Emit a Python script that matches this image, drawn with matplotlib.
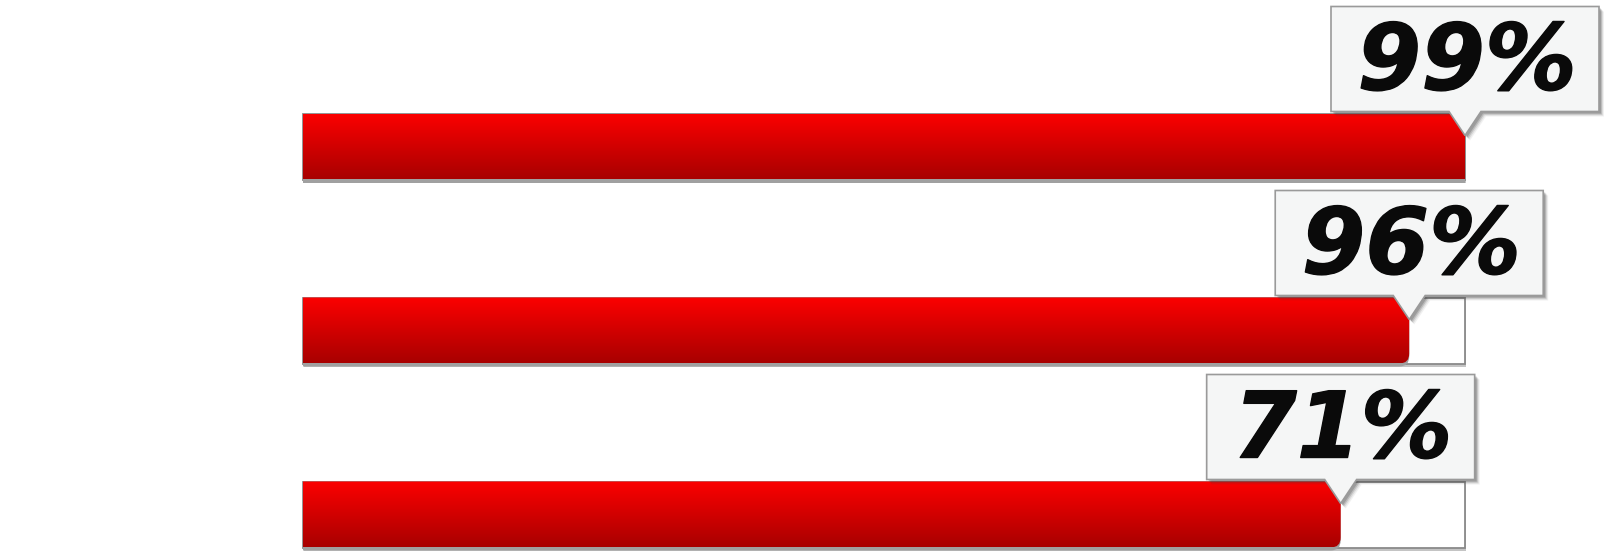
import numpy as np
import matplotlib
matplotlib.use('Agg')
import matplotlib.pyplot as plt
import matplotlib.patheffects as pe
from matplotlib.colors import LinearSegmentedColormap
from matplotlib.patches import PathPatch, Rectangle, Polygon
from matplotlib.path import Path

# values shown in the callouts
labels = ['99%', '96%', '71%']
values = [99, 96, 71]
# bar length as drawn, in percent of the track
bar_fill = [100, 95.2, 89.3]

W, H = 1605, 551
fig = plt.figure(figsize=(W / 100, H / 100), dpi=100)
ax = fig.add_axes([0, 0, 1, 1])
ax.axis('off')

# pixel -> data factors
track_px = 1162
PX = 100 / track_px
PY = 1 / 184.0
x_left_px = 303
y0_px = 146.5

red = LinearSegmentedColormap.from_list('red', ['#fc0000', '#a80000'])
grad = np.linspace(0, 1, 256).reshape(-1, 1)

bar_h = 66 * PY


def bar_path(x0, x1, yt, yb, r):
    rx, ry = r * PX, r * PY
    if r <= 0:
        verts = [(x0, yt), (x1, yt), (x1, yb), (x0, yb), (x0, yt)]
        codes = [Path.MOVETO] + [Path.LINETO] * 3 + [Path.CLOSEPOLY]
        return Path(verts, codes)
    verts = [(x0, yt), (x1 - rx, yt), (x1, yt), (x1, yt + ry),
             (x1, yb - ry), (x1, yb), (x1 - rx, yb), (x0, yb), (x0, yt)]
    codes = [Path.MOVETO, Path.LINETO, Path.CURVE3, Path.CURVE3,
             Path.LINETO, Path.CURVE3, Path.CURVE3, Path.LINETO, Path.CLOSEPOLY]
    return Path(verts, codes)


for i, (lab, f) in enumerate(zip(labels, bar_fill)):
    yt = i - bar_h / 2
    yb = i + bar_h / 2

    # track shadow + track
    ax.add_patch(Rectangle((0 + 1 * PX, yt + 3 * PY), 100, bar_h,
                           facecolor='#c4c4c4', edgecolor='none', zorder=1))
    ax.add_patch(Rectangle((0, yt), 100, bar_h, facecolor='white',
                           edgecolor='#8a8a8a', lw=1.3, zorder=2))

    # red gradient bar
    r = min(10, (100 - f) / PX)
    ax.add_patch(PathPatch(bar_path(0, f, yt + 3 * PY, yb + 3 * PY, r),
                           facecolor='#a0a0a0', edgecolor='none', zorder=3))
    patch = PathPatch(bar_path(0, f, yt, yb, r), facecolor='none',
                      edgecolor='none', zorder=4)
    ax.add_patch(patch)
    im = ax.imshow(grad, cmap=red, extent=[0, f, yb, yt], aspect='auto',
                   origin='upper', zorder=4)
    im.set_clip_path(patch)

    # callout box with pointer
    bw, bh = 268 * PX, 105 * PY
    bbot = yt - 2 * PY
    btop = bbot - bh
    bl, br = f - bw / 2, f + bw / 2
    tip_w, tip_h = 16 * PX, 24 * PY
    pts = [(bl, btop), (br, btop), (br, bbot), (f + tip_w, bbot),
           (f, bbot + tip_h), (f - tip_w, bbot), (bl, bbot)]
    for k, a in [(5, 0.08), (4, 0.12), (3, 0.2), (2, 0.25)]:
        sh = [(px + k * PX, py + k * PY) for px, py in pts]
        ax.add_patch(Polygon(sh, closed=True, facecolor='#404040', alpha=a,
                             edgecolor='none', zorder=5))
    ax.add_patch(Polygon(pts, closed=True, facecolor='#f5f6f6',
                         edgecolor='#9a9a9a', lw=1.2, zorder=6))

    ax.text(f + 2 * PX, btop + 83 * PY, lab, ha='center', va='baseline',
            fontsize=66, fontweight='bold', fontstyle='oblique',
            family='DejaVu Sans', color='#0a0a0a', zorder=7,
            path_effects=[pe.withStroke(linewidth=1, foreground='#0a0a0a')])

ax.set_xlim(-x_left_px * PX, (W - x_left_px) * PX)
ax.set_ylim((H - y0_px) * PY, -y0_px * PY)

fig.savefig('out.png', dpi=100, facecolor='white')
